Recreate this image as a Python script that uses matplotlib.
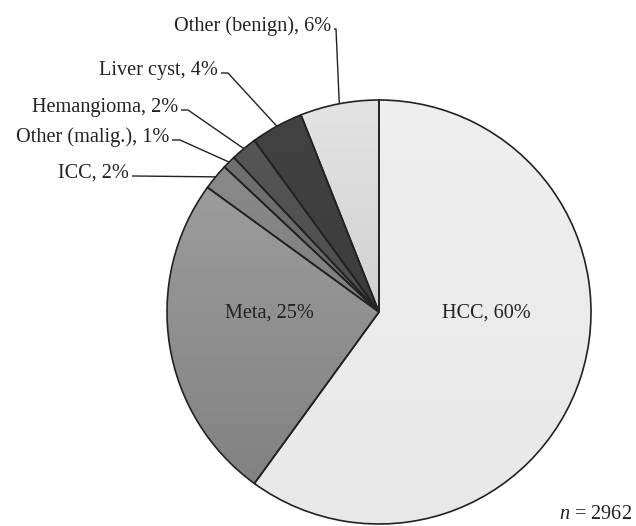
import numpy as np
import matplotlib.pyplot as plt
from matplotlib.patches import Wedge

# Daten (Anteile in %)
labels = ['HCC', 'Meta', 'ICC', 'Other (malig.)', 'Hemangioma', 'Liver cyst', 'Other (benign)']
pcts = [60, 25, 2, 1, 2, 4, 6]
n_total = 2962

# Farbverlauf je Segment (oben, unten)
grad = [('#efefef', '#e8e8e8'), ('#a4a4a4', '#7e7e7e'), ('#8e8e8e', '#707070'),
        ('#737373', '#5b5b5b'), ('#575757', '#454545'), ('#434343', '#343434'),
        ('#e3e3e3', '#bfbfbf')]

plt.rcParams['font.family'] = ['Liberation Serif', 'DejaVu Serif']
plt.rcParams['mathtext.fontset'] = 'custom'
plt.rcParams['mathtext.it'] = 'Liberation Serif:italic'
plt.rcParams['mathtext.rm'] = 'Liberation Serif'
FS = 14.6

W, H = 636, 526
cx, cy, R = 379, H - 312, 212

fig = plt.figure(figsize=(W / 100, H / 100), dpi=100)
ax = fig.add_axes([0, 0, 1, 1])

wedges, _ = ax.pie(pcts, startangle=90, counterclock=False, radius=R, center=(cx, cy),
                   colors=[g[0] for g in grad], wedgeprops=dict(linewidth=0))

def hexrgb(h):
    return np.array([int(h[i:i + 2], 16) / 255 for i in (1, 3, 5)])

# Verlauf ueber die Segmente legen
for w, (c_top, c_bot) in zip(wedges, grad):
    t = np.linspace(0, 1, 256)[:, None]
    img = hexrgb(c_top)[None, :] * (1 - t) + hexrgb(c_bot)[None, :] * t
    img = np.repeat(img[:, None, :], 2, axis=1)
    im = ax.imshow(img, extent=(cx - R, cx + R, cy - R, cy + R), origin='upper',
                   aspect='auto', zorder=2, interpolation='bilinear')
    im.set_clip_path(w)

# Kanten
for w in wedges:
    ax.add_patch(Wedge((cx, cy), R, w.theta1, w.theta2, fill=False,
                       edgecolor='#222222', linewidth=1.2, zorder=3))

def mid_point(w):
    a = np.deg2rad((w.theta1 + w.theta2) / 2)
    return cx + R * np.cos(a), cy + R * np.sin(a)

# Beschriftungen innen
ax.text(486, H - 313, f'{labels[0]}, {pcts[0]}%', fontsize=FS, ha='center', va='center',
        color='#222222', zorder=4)
ax.text(269, H - 313, f'{labels[1]}, {pcts[1]}%', fontsize=FS, ha='center', va='center',
        color='#222222', zorder=4)

# Beschriftungen aussen mit Fuehrungslinien: (Textende x, Linien-y, Knickpunkt x)
callouts = {2: (129, 176, 134), 3: (169, 140, 180), 4: (178, 110, 188),
            5: (218, 73, 228), 6: (331, 29, 336)}
for i, (tx, ly, kx) in callouts.items():
    px, py = mid_point(wedges[i])
    ly_up = H - ly
    ax.plot([tx + 3, kx, px], [ly_up, ly_up, py], color='#222222', lw=1.0, zorder=4,
            solid_capstyle='butt')
    ax.text(tx, ly_up - 2, f'{labels[i]}, {pcts[i]}%', fontsize=FS, ha='right',
            va='baseline', color='#222222')

ax.text(632, H - 519, r'$n$' + f' = {n_total}', fontsize=FS, ha='right', va='baseline',
        color='#222222')

ax.set_xlim(0, W)
ax.set_ylim(0, H)
ax.set_aspect('auto')
ax.axis('off')

fig.savefig('out.png', dpi=100)
